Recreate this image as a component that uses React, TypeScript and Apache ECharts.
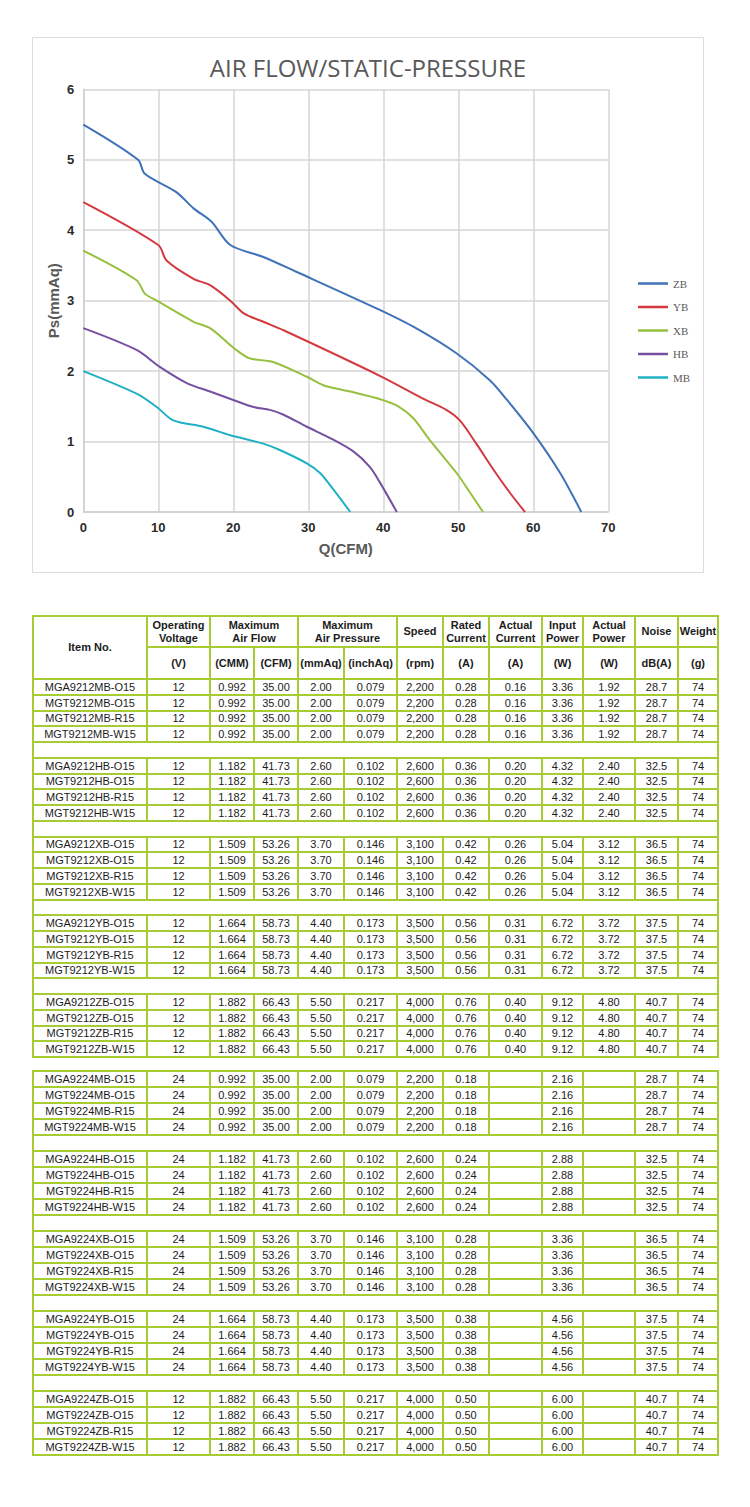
import React, { useEffect, useRef } from "react";
import * as echarts from "echarts";

// ---------- chart data ----------
const chartTitle = "AIR FLOW/STATIC-PRESSURE";
const xAxisName = "Q(CFM)";
const yAxisName = "Ps(mmAq)";
const seriesNames = ["ZB", "YB", "XB", "HB", "MB"];
const seriesColors = ["#3f72b8", "#d23a3f", "#96c03e", "#7550a0", "#1fb0c4"];

const zbQ = [0, 7.3, 8.2, 12.4, 14.7, 17.1, 19.6, 24, 28.4, 39.1, 44, 49.8, 54.2, 56.5, 60, 63.6, 66.4];
const zbP = [5.5, 5.0, 4.8, 4.54, 4.31, 4.12, 3.79, 3.62, 3.41, 2.89, 2.63, 2.25, 1.87, 1.59, 1.12, 0.55, 0];
const ybQ = [0, 10, 11.1, 14.7, 16.9, 19.6, 21.4, 24, 26.7, 39.6, 45.3, 48.4, 50.2, 52.4, 54.7, 56.9, 58.9];
const ybP = [4.4, 3.79, 3.57, 3.31, 3.22, 3.0, 2.82, 2.7, 2.58, 1.93, 1.61, 1.45, 1.3, 0.97, 0.6, 0.27, 0];
const xbQ = [0, 7.1, 8.2, 9.8, 14.7, 16.9, 20.4, 22.2, 25.3, 29.8, 32, 35.6, 39.6, 42, 44, 46.2, 49.8, 51.6, 53.3];
const xbP = [3.71, 3.29, 3.1, 3.0, 2.7, 2.61, 2.3, 2.18, 2.13, 1.92, 1.8, 1.71, 1.6, 1.5, 1.33, 1.02, 0.55, 0.27, 0];
const hbQ = [0, 7.1, 10.2, 13.8, 16.9, 20, 22.7, 24.9, 26.7, 29.8, 32.9, 36, 38.2, 39.6, 41.8];
const hbP = [2.61, 2.3, 2.06, 1.83, 1.71, 1.59, 1.49, 1.45, 1.38, 1.21, 1.05, 0.86, 0.64, 0.41, 0];
const mbQ = [0, 7.1, 9.8, 12, 16, 19.6, 24, 26.2, 29.8, 31.6, 32.9, 35.6];
const mbP = [2.0, 1.68, 1.49, 1.3, 1.21, 1.09, 0.97, 0.88, 0.69, 0.55, 0.38, 0];

const seriesQ = [zbQ, ybQ, xbQ, hbQ, mbQ];
const seriesP = [zbP, ybP, xbP, hbP, mbP];

// ---------- table data ----------
const table1Items = [
  ["MGA9212MB-O15", "MGT9212MB-O15", "MGT9212MB-R15", "MGT9212MB-W15"],
  ["MGA9212HB-O15", "MGT9212HB-O15", "MGT9212HB-R15", "MGT9212HB-W15"],
  ["MGA9212XB-O15", "MGT9212XB-O15", "MGT9212XB-R15", "MGT9212XB-W15"],
  ["MGA9212YB-O15", "MGT9212YB-O15", "MGT9212YB-R15", "MGT9212YB-W15"],
  ["MGA9212ZB-O15", "MGT9212ZB-O15", "MGT9212ZB-R15", "MGT9212ZB-W15"],
];
const table1Values = [
  ["12", "0.992", "35.00", "2.00", "0.079", "2,200", "0.28", "0.16", "3.36", "1.92", "28.7", "74"],
  ["12", "1.182", "41.73", "2.60", "0.102", "2,600", "0.36", "0.20", "4.32", "2.40", "32.5", "74"],
  ["12", "1.509", "53.26", "3.70", "0.146", "3,100", "0.42", "0.26", "5.04", "3.12", "36.5", "74"],
  ["12", "1.664", "58.73", "4.40", "0.173", "3,500", "0.56", "0.31", "6.72", "3.72", "37.5", "74"],
  ["12", "1.882", "66.43", "5.50", "0.217", "4,000", "0.76", "0.40", "9.12", "4.80", "40.7", "74"],
];
const table2Items = [
  ["MGA9224MB-O15", "MGT9224MB-O15", "MGT9224MB-R15", "MGT9224MB-W15"],
  ["MGA9224HB-O15", "MGT9224HB-O15", "MGT9224HB-R15", "MGT9224HB-W15"],
  ["MGA9224XB-O15", "MGT9224XB-O15", "MGT9224XB-R15", "MGT9224XB-W15"],
  ["MGA9224YB-O15", "MGT9224YB-O15", "MGT9224YB-R15", "MGT9224YB-W15"],
  ["MGA9224ZB-O15", "MGT9224ZB-O15", "MGT9224ZB-R15", "MGT9224ZB-W15"],
];
const table2Values = [
  ["24", "0.992", "35.00", "2.00", "0.079", "2,200", "0.18", "", "2.16", "", "28.7", "74"],
  ["24", "1.182", "41.73", "2.60", "0.102", "2,600", "0.24", "", "2.88", "", "32.5", "74"],
  ["24", "1.509", "53.26", "3.70", "0.146", "3,100", "0.28", "", "3.36", "", "36.5", "74"],
  ["24", "1.664", "58.73", "4.40", "0.173", "3,500", "0.38", "", "4.56", "", "37.5", "74"],
  ["12", "1.882", "66.43", "5.50", "0.217", "4,000", "0.50", "", "6.00", "", "40.7", "74"],
];
const headTop = ["Operating\nVoltage", "Speed", "Rated\nCurrent", "Actual\nCurrent", "Input\nPower", "Actual\nPower", "Noise", "Weight"];
const headUnits = ["(V)", "(CMM)", "(CFM)", "(mmAq)", "(inchAq)", "(rpm)", "(A)", "(A)", "(W)", "(W)", "dB(A)", "(g)"];

const colWidths = [114, 63, 44, 44, 46, 53, 46, 46, 53, 41, 52, 43, 40];
const BORDER = "2px solid #a6cb33";

const cellBase: React.CSSProperties = {
  border: BORDER,
  padding: 0,
  textAlign: "center",
  verticalAlign: "middle",
  overflow: "hidden",
  whiteSpace: "nowrap",
};

function HeadCell({ text, rowSpan, colSpan }: { text: string; rowSpan?: number; colSpan?: number }) {
  const lines = text.split("\n");
  return (
    <td rowSpan={rowSpan} colSpan={colSpan} style={{ ...cellBase, fontWeight: "bold", lineHeight: "13px" }}>
      {lines.map((l, i) => (
        <div key={i}>{l}</div>
      ))}
    </td>
  );
}

function SpecTable({
  items,
  values,
  rowH,
  showHeader,
  top,
}: {
  items: string[][];
  values: string[][];
  rowH: number;
  showHeader: boolean;
  top: number;
}) {
  const rows: React.ReactNode[] = [];
  items.forEach((group, g) => {
    group.forEach((name, i) => {
      rows.push(
        <tr key={`r${g}-${i}`} style={{ height: rowH }}>
          <td style={cellBase}>{name}</td>
          {values[g].map((v, j) => (
            <td key={j} style={cellBase}>
              {v}
            </td>
          ))}
        </tr>
      );
    });
    if (g < items.length - 1) {
      rows.push(
        <tr key={`b${g}`} style={{ height: rowH }}>
          <td colSpan={13} style={{ ...cellBase }}></td>
        </tr>
      );
    }
  });
  return (
    <table
      style={{
        position: "absolute",
        left: 32,
        top,
        width: 685,
        borderCollapse: "collapse",
        tableLayout: "fixed",
        fontFamily: "'Liberation Sans', Arial, sans-serif",
        fontSize: 11,
        color: "#1c1c1c",
        lineHeight: "12px",
      }}
    >
      <colgroup>
        {colWidths.map((w, i) => (
          <col key={i} style={{ width: w }} />
        ))}
      </colgroup>
      <tbody>
        {showHeader && (
          <>
            <tr style={{ height: 31 }}>
              <HeadCell text="Item No." rowSpan={2} />
              <HeadCell text={headTop[0]} />
              <HeadCell text={"Maximum\nAir Flow"} colSpan={2} />
              <HeadCell text={"Maximum\nAir Pressure"} colSpan={2} />
              {headTop.slice(1).map((t, i) => (
                <HeadCell key={i} text={t} />
              ))}
            </tr>
            <tr style={{ height: 32 }}>
              {headUnits.map((t, i) => (
                <HeadCell key={i} text={t} />
              ))}
            </tr>
          </>
        )}
        {rows}
      </tbody>
    </table>
  );
}

function Chart() {
  const ref = useRef<HTMLDivElement>(null);
  useEffect(() => {
    if (!ref.current) return;
    const chart = echarts.init(ref.current, undefined, { renderer: "svg" });
    const axisLabelStyle = {
      fontFamily: "'Liberation Sans', Arial, sans-serif",
      fontWeight: "bold" as const,
      fontSize: 13,
      color: "#2b2b2b",
    };
    const nameStyle = {
      fontFamily: "'Liberation Sans', Arial, sans-serif",
      fontWeight: "bold" as const,
      fontSize: 15,
      color: "#595959",
    };
    const gridLine = { lineStyle: { color: "#d6d6d6", width: 1.5 } };
    chart.setOption({
      animation: false,
      graphic: [
        {
          type: "rect",
          silent: true,
          z: -10,
          shape: { x: 32.5, y: 37.5, width: 671, height: 535 },
          style: { fill: "#ffffff", stroke: "#dcdcdc", lineWidth: 1 },
        },
        {
          type: "text",
          x: 368,
          y: 67,
          style: {
            text: chartTitle,
            fontFamily: "'Open Sans', sans-serif",
            fontSize: 24,
            fill: "#595959",
            textAlign: "center",
            textVerticalAlign: "middle",
            align: "center",
            verticalAlign: "middle",
          },
        },
      ],
      grid: { left: 83.3, right: 141.7, top: 89.3, bottom: 78, containLabel: false },
      xAxis: {
        type: "value",
        min: 0,
        max: 70,
        interval: 10,
        name: xAxisName,
        nameLocation: "middle",
        nameGap: 29,
        nameMoveOverlap: false,
        nameTextStyle: nameStyle,
        axisLine: { show: true, lineStyle: { color: "#d0d0d0", width: 1.5 } },
        axisTick: { show: false },
        axisLabel: { ...axisLabelStyle, margin: 9 },
        splitLine: gridLine,
      },
      yAxis: {
        type: "value",
        min: 0,
        max: 6,
        interval: 1,
        name: yAxisName,
        nameLocation: "middle",
        nameGap: 22,
        nameMoveOverlap: false,
        nameTextStyle: nameStyle,
        axisLine: { show: true, lineStyle: { color: "#d0d0d0", width: 1.5 } },
        axisTick: { show: false },
        axisLabel: { ...axisLabelStyle, margin: 9 },
        splitLine: gridLine,
      },
      legend: {
        orient: "vertical",
        left: 638,
        top: 278,
        padding: 0,
        itemWidth: 30,
        itemHeight: 14,
        itemGap: 12.5,
        icon: "path://M0,0 L30,0 L30,2.5 L0,2.5 Z",
        textStyle: { fontFamily: "'Liberation Serif', serif", fontSize: 11, color: "#595959" },
        data: seriesNames,
      },
      series: seriesNames.map((name, k) => ({
        type: "line",
        name,
        smooth: 0.3,
        symbol: "none",
        showSymbol: false,
        lineStyle: { width: 2, color: seriesColors[k] },
        itemStyle: { color: seriesColors[k] },
        data: seriesQ[k].map((q, i) => [q, seriesP[k][i]]),
      })),
    });
    return () => chart.dispose();
  }, []);
  return <div ref={ref} style={{ position: "absolute", left: 0, top: 0, width: 750, height: 590 }} />;
}

export default function App() {
  return (
    <div style={{ position: "absolute", left: 0, top: 0, width: 750, height: 1507, background: "#ffffff" }}>
      <Chart />
      <SpecTable items={table1Items} values={table1Values} rowH={15.75} showHeader={true} top={615} />
      <SpecTable items={table2Items} values={table2Values} rowH={16} showHeader={false} top={1070} />
    </div>
  );
}
